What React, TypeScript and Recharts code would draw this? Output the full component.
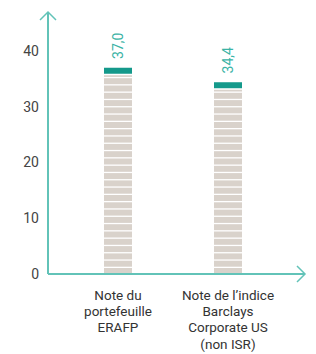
import React from "react";
import { BarChart, Bar, XAxis, YAxis, LabelList } from "recharts";

const categories = ["Note du|portefeuille|ERAFP", "Note de l’indice|Barclays|Corporate US|(non ISR)"];
const values = [37.0, 34.4];
const valueLabels = ["37,0", "34,4"];
const yTicks = [0, 10, 20, 30, 40];

const data = categories.map((c, i) => ({ name: c, value: values[i], label: valueLabels[i] }));

const AXIS = "#62c3b8";
const CAP = "#14998b";
const BEIGE = "#d9d2cb";
const LABEL = "#3ab3a5";
const FONT = "Roboto, 'DejaVu Sans', sans-serif";

const StripedBar = (props: any) => {
  const { x, y, width, height } = props;
  const bottom = y + height;
  const period = 7.3;
  const stripe = 6;
  const capH = 6;
  const rects: any[] = [];
  let b = bottom;
  let i = 0;
  const limit = y + capH + 1.5;
  while (b > limit) {
    const top = Math.max(b - stripe, limit);
    rects.push(<rect key={i} x={x} y={top} width={width} height={b - top} fill={BEIGE} />);
    b -= period;
    i++;
  }
  return (
    <g>
      {rects}
      <rect x={x} y={y} width={width} height={capH} fill={CAP} />
    </g>
  );
};

const XTick = (props: any) => {
  const { x, y, payload } = props;
  const lines = String(payload.value).split("|");
  return (
    <text x={x} y={y} textAnchor="middle" fill="#333" fontSize={13.5} fontFamily={FONT}>
      {lines.map((l: string, i: number) => (
        <tspan key={i} x={x} dy={i === 0 ? 18 : 16.2}>
          {l}
        </tspan>
      ))}
    </text>
  );
};

const ValueLabel = (props: any) => {
  const { x, y, width, value } = props;
  const cx = x + width / 2;
  const cy = y - 22;
  return (
    <text
      x={cx}
      y={cy}
      transform={`rotate(-90 ${cx} ${cy})`}
      textAnchor="middle"
      dominantBaseline="central"
      fill={LABEL}
      fontSize={14}
      fontFamily={FONT}
    >
      {value}
    </text>
  );
};

export default function App() {
  return (
    <div style={{ position: "absolute", left: 0, top: 0, width: 316, height: 354, background: "#fff" }}>
      <BarChart
        width={316}
        height={354}
        data={data}
        margin={{ top: 12, right: 11, bottom: 0, left: 0 }}
        barSize={28}
      >
        <YAxis
          width={48}
          domain={[0, 47]}
          ticks={yTicks}
          allowDataOverflow
          axisLine={{ stroke: AXIS, strokeWidth: 2 }}
          tickLine={false}
          tickSize={0}
          tickMargin={9}
          tick={{ fill: "#444", fontSize: 14, fontFamily: FONT }}
        />
        <XAxis
          dataKey="name"
          padding={{ left: 15, right: 22 }}
          axisLine={{ stroke: AXIS, strokeWidth: 2 }}
          tickLine={false}
          tick={<XTick />}
          interval={0}
          height={80}
        />
        <Bar dataKey="value" shape={<StripedBar />} isAnimationActive={false}>
          <LabelList dataKey="label" content={<ValueLabel />} />
        </Bar>
      </BarChart>
      <svg width={316} height={354} style={{ position: "absolute", left: 0, top: 0, pointerEvents: "none" }}>
        <polyline points="40,20 48,12 56,20" fill="none" stroke={AXIS} strokeWidth={1.5} />
        <polyline points="297,266 305,274 297,282" fill="none" stroke={AXIS} strokeWidth={1.5} />
      </svg>
    </div>
  );
}
